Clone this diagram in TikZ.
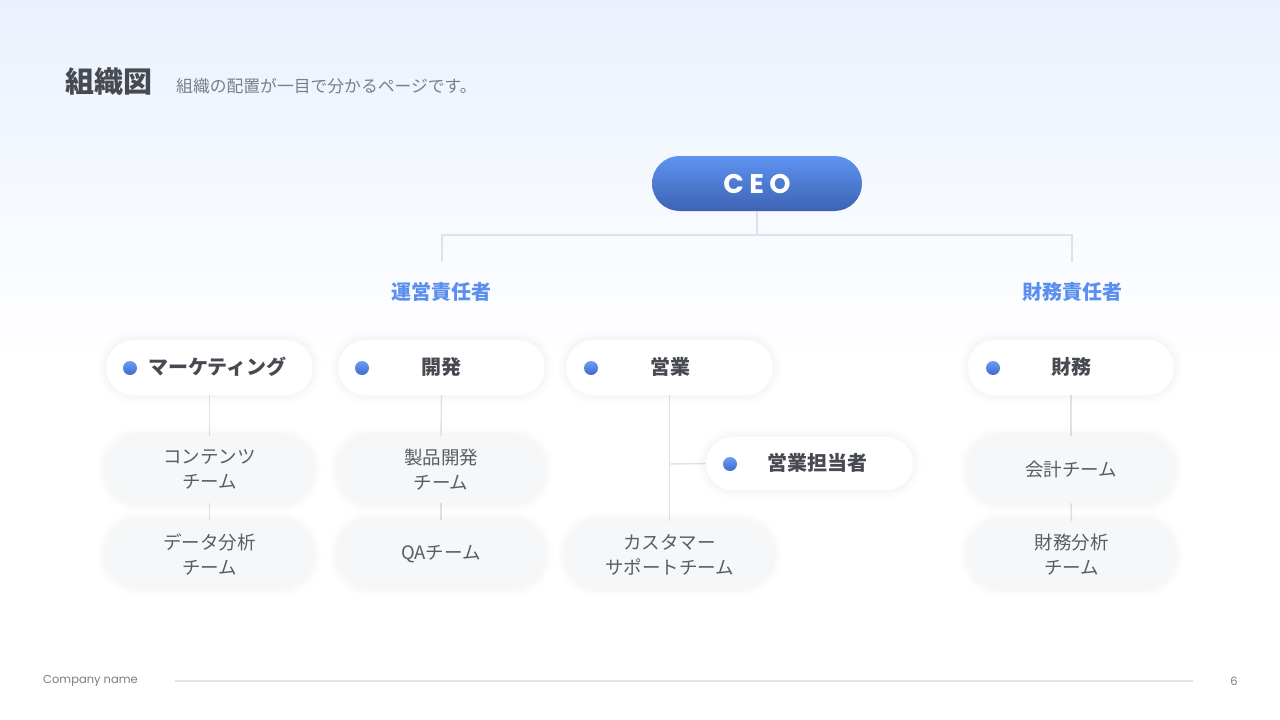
\documentclass[tikz,border=0pt]{standalone}
\usepackage{fontspec}
\setmainfont{Noto Sans CJK JP}
\newfontfamily\popfont{Poppins}
\newfontfamily\ceofont{Poppins}[LetterSpace=20]
\definecolor{bgtop}{HTML}{EAF1FD}
\definecolor{ceotop}{HTML}{5E93F2}
\definecolor{ceobot}{HTML}{3D63B3}
\definecolor{dottop}{HTML}{6D9DF6}
\definecolor{dotbot}{HTML}{3F69CC}
\definecolor{mgrblue}{HTML}{5B8FEF}
\definecolor{darktxt}{HTML}{474A50}
\definecolor{teamtxt}{HTML}{5A5D63}
\definecolor{subtxt}{HTML}{7A7E86}
\definecolor{conncol}{HTML}{DFE2E8}
\definecolor{teamfill}{HTML}{F6F7F9}
\pgfdeclarelayer{bg}
\pgfsetlayers{bg,main}
\tikzset{
  conn/.style={draw=conncol, line width=1.4pt},
  halo/.style={
    preaction={draw=black, draw opacity=0.008, line width=18pt},
    preaction={draw=black, draw opacity=0.01, line width=12pt},
    preaction={draw=black, draw opacity=0.012, line width=6pt}},
  ceobox/.style={rounded corners=27.5pt, minimum width=210pt, minimum height=55pt, top color=ceotop, bottom color=ceobot, text=white, font=\ceofont\bfseries\fontsize{27}{30}\selectfont, inner sep=0pt},
  mgr/.style={text=mgrblue, font=\bfseries\fontsize{20}{22}\selectfont, inner sep=0pt},
  deptbox/.style={rounded corners=27pt, minimum width=206pt, minimum height=55pt, fill=white, halo, inner sep=0pt},
  teambox/.style={rounded corners=33pt, minimum width=206pt, minimum height=67pt, fill=teamfill, halo, inner sep=0pt, align=center, text=teamtxt, font=\fontsize{18.5}{25}\selectfont},
  dot/.style={circle, minimum size=14pt, inner sep=0pt, top color=dottop, bottom color=dotbot},
  depttxt/.style={text=darktxt, font=\bfseries\fontsize{20}{22}\selectfont, inner sep=0pt},
}
\begin{document}
\begin{tikzpicture}[x=1pt,y=-1pt]
\useasboundingbox (0,0) rectangle (1280,720);
\begin{pgfonlayer}{bg}
\fill[white] (0,0) rectangle (1280,720);
\shade[top color=bgtop, bottom color=white] (0,0) rectangle (1280,360);
\end{pgfonlayer}
% title
\node[anchor=west, text=darktxt, font=\bfseries\fontsize{29}{31}\selectfont, inner sep=0pt] (title) at (65,82) {組織図};
\node[anchor=west, text=subtxt, font=\fontsize{16.8}{18}\selectfont, inner sep=0pt] (subtitle) at (176,86) {組織の配置が一目で分かるページです。};
% CEO
\node[ceobox] (ceo) at (757,183.5) {CEO};
\coordinate (j) at (757,235);
\coordinate (jl) at (442,235);
\coordinate (jr) at (1072,235);
\coordinate (el) at (442,262);
\coordinate (er) at (1072,262);
\node[mgr] (ops) at (441,292) {運営責任者};
\node[mgr] (fin) at (1072,292) {財務責任者};
% teams
\node[teambox] (cont) at (209.5,469.5) {コンテンツ\\チーム};
\node[teambox] (data) at (209.5,554) {データ分析\\チーム};
\node[teambox] (prod) at (441,469.5) {製品開発\\チーム};
\node[teambox] (qa) at (441,554) {QAチーム};
\node[teambox] (cs) at (669.5,554.5) {カスタマー\\サポートチーム};
\node[teambox] (acct) at (1071,469.5) {会計チーム};
\node[teambox] (fa) at (1071.5,554.5) {財務分析\\チーム};
% depts
\node[deptbox] (mkt) at (209.5,367.5) {};
\node[deptbox] (dev) at (441.5,367.5) {};
\node[deptbox] (sales) at (669.5,367.5) {};
\node[deptbox] (finance) at (1071,367.5) {};
\node[deptbox, minimum width=207pt, minimum height=53pt] (rep) at (809.5,463.5) {};
% connectors (under the boxes)
\begin{pgfonlayer}{bg}
\draw[conn] (ceo.south) -- (j);
\draw[conn] (el) -- (jl) -- (jr) -- (er);
\draw[conn] (mkt.south) -- (cont.north);
\draw[conn] (cont.south) -- (data.north);
\draw[conn] (dev.south) -- (prod.north);
\draw[conn] (prod.south) -- (qa.north);
\draw[conn] (sales.south) -- (cs.north);
\coordinate (br) at (669.5,464);
\draw[conn] (br) -- (rep.west);
\draw[conn] (finance.south) -- (acct.north);
\draw[conn] (acct.south) -- (fa.north);
\end{pgfonlayer}
% dots and labels
\node[dot] (d1) at (130,368) {};
\node[depttxt, anchor=west] (t1) at (148,367) {マーケティング};
\node[dot] (d2) at (362,368) {};
\node[depttxt] (t2) at (441,367) {開発};
\node[dot] (d3) at (591,368) {};
\node[depttxt] (t3) at (670,367) {営業};
\node[dot] (d4) at (993,368) {};
\node[depttxt] (t4) at (1071,367) {財務};
\node[dot] (d5) at (730,464) {};
\node[depttxt] (t5) at (817,463) {営業担当者};
% footer
\node[anchor=west, text=subtxt, font=\popfont\fontsize{11.5}{13}\selectfont, inner sep=0pt] (company) at (43,681) {Company name};
\coordinate (fl) at (175,681);
\coordinate (fr) at (1193,681);
\draw[draw=conncol, line width=1.2pt] (fl) -- (fr);
\node[text=subtxt, font=\popfont\fontsize{11.5}{13}\selectfont, inner sep=0pt] (page) at (1234,681) {6};
\end{tikzpicture}
\end{document}
